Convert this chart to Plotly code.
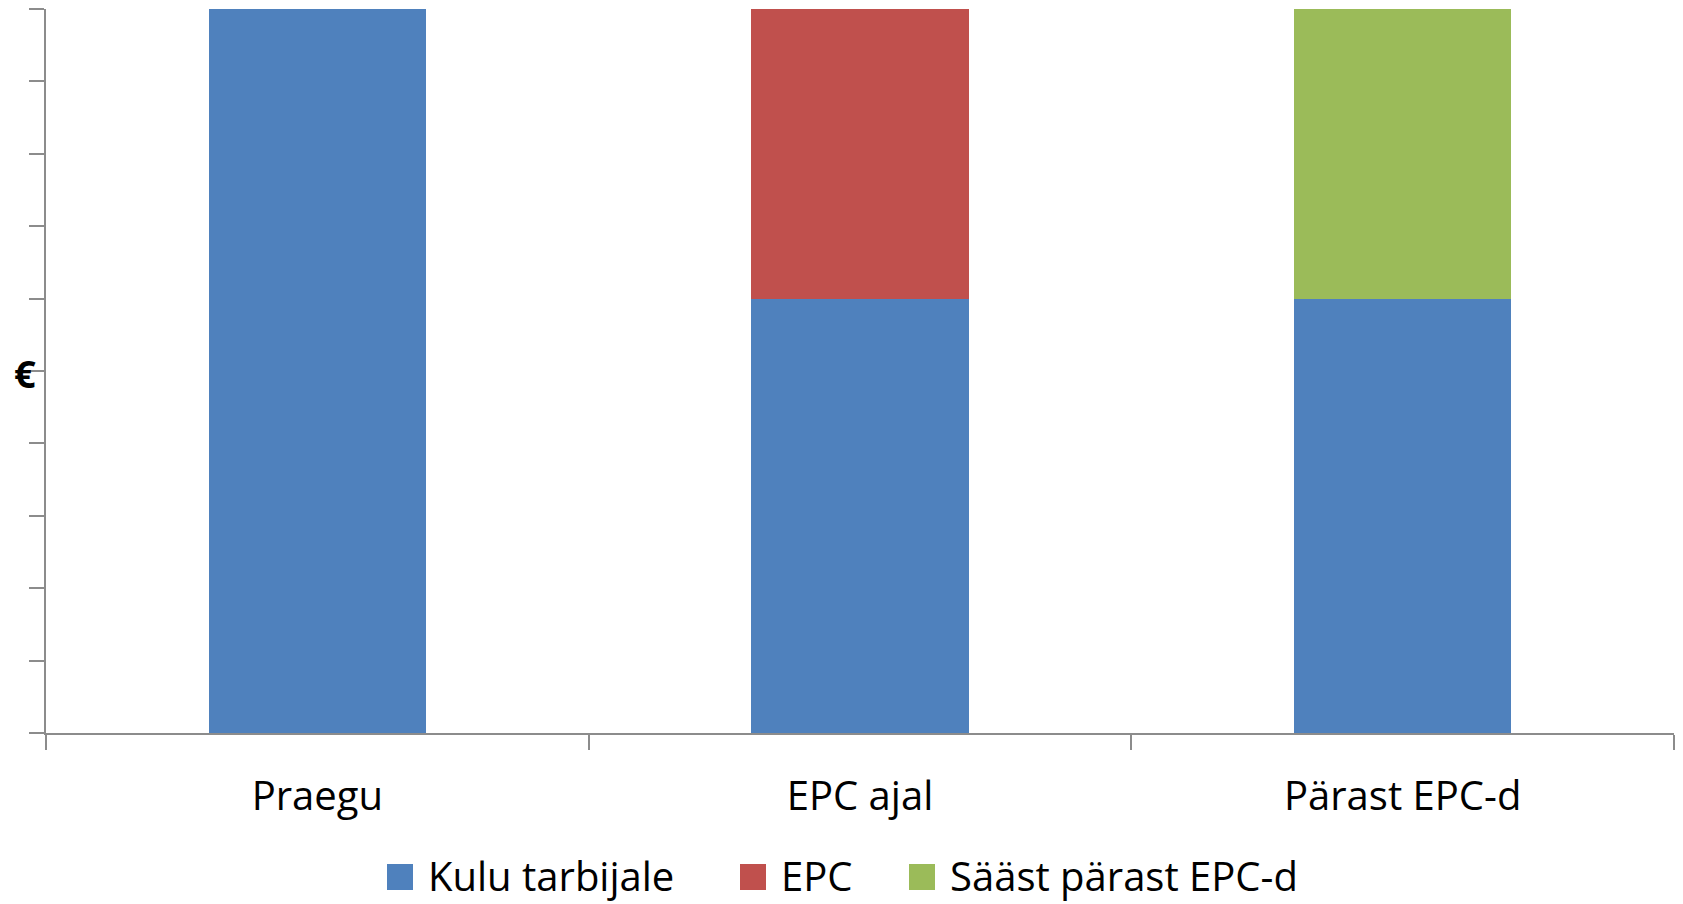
import plotly.graph_objects as go

categories = ["Praegu", "EPC ajal", "Pärast EPC-d"]
kulu_tarbijale = [10, 6, 6]
epc = [0, 4, 0]
saast = [0, 0, 4]
series_names = ["Kulu tarbijale", "EPC", "Sääst pärast EPC-d"]
colors = ["#4F81BD", "#C0504D", "#9BBB59"]

FONT = "'Open Sans', Lato, sans-serif"
FS = 40
W, H = 1683, 904
# plot area in page pixels: x 46..1674, y 9..733
ML, MT = 46, 9
MR = W - 1674
MB = H - 733
PW, PH = W - ML - MR, H - MT - MB

fig = go.Figure()
for name, vals, col in zip(series_names, [kulu_tarbijale, epc, saast], colors):
    fig.add_trace(go.Bar(x=categories, y=vals, name=name,
                         marker=dict(color=col, line=dict(width=0)), showlegend=False))

axis_col = "#8C8C8C"
fig.update_layout(
    width=W, height=H,
    barmode="stack", bargap=0.6,
    plot_bgcolor="white", paper_bgcolor="white",
    margin=dict(l=ML, r=MR, t=MT, b=MB),
    font=dict(family=FONT, size=FS, color="black"),
    showlegend=False,
)
fig.update_xaxes(
    type="category", showline=True, linecolor=axis_col, linewidth=1.5,
    ticks="outside", tickson="boundaries", ticklen=15, tickcolor=axis_col, tickwidth=1.5,
    showgrid=False, zeroline=False, tickfont=dict(size=FS), ticklabelstandoff=27,
    automargin=False,
)
fig.update_yaxes(
    range=[0, 10], dtick=1, showline=True, linecolor=axis_col, linewidth=1.5,
    ticks="outside", ticklen=15, tickcolor=axis_col, tickwidth=1.5,
    showticklabels=False, showgrid=False, zeroline=False, automargin=False,
)

def px_x(p):  # page pixel x -> paper
    return (p - ML) / PW

def px_y(q):  # page pixel y -> paper
    return (H - MB - q) / PH

fig.add_annotation(text="<b>€</b>", xref="paper", yref="paper", x=px_x(25), y=px_y(373),
                   xanchor="center", yanchor="middle", showarrow=False,
                   font=dict(size=38, family=FONT, color="black"))

# manual legend (large square swatches like the original)
legend_sq_left = [387, 740, 909]
sq, cy = 26, 877
for name, col, left in zip(series_names, colors, legend_sq_left):
    fig.add_shape(type="rect", xref="paper", yref="paper",
                  x0=px_x(left), x1=px_x(left + sq), y0=px_y(cy + sq / 2), y1=px_y(cy - sq / 2),
                  fillcolor=col, line=dict(width=0))
    fig.add_annotation(text=name, xref="paper", yref="paper", x=px_x(left + sq + 13), y=px_y(cy - 2),
                       xanchor="left", yanchor="middle", showarrow=False,
                       font=dict(size=FS, family=FONT, color="black"))

fig.write_html("out.html", config={"displayModeBar": False},
               post_script="document.body.style.margin='0';document.body.style.overflow='hidden';")
